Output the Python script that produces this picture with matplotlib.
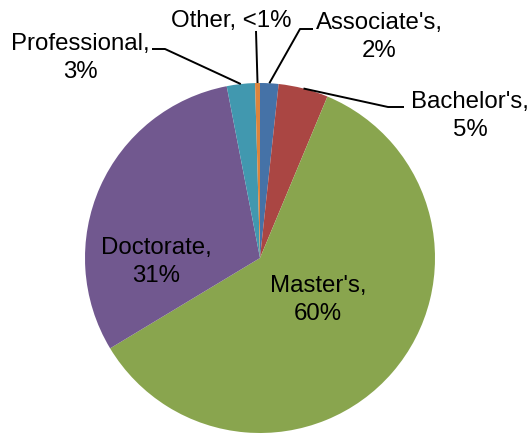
import numpy as np
import matplotlib.pyplot as plt

plt.rcParams['font.family'] = ['Liberation Sans', 'DejaVu Sans']

# degree shares, clockwise from 12 o'clock
degrees = ["Associate's", "Bachelor's", "Master's", "Doctorate", "Professional", "Other"]
shares = [1.7, 4.6, 60.1, 30.6, 2.6, 0.45]
pct_labels = ["2%", "5%", "60%", "31%", "3%", "<1%"]
colors = ["#4572A7", "#AA4643", "#89A54E", "#71588F", "#4198AF", "#DB843D"]

W, H = 530, 435
fig = plt.figure(figsize=(W / 100, H / 100), dpi=100)
ax = fig.add_axes([0, 0, 1, 1])

cx, cy, r = 260, H - 259, 175
wedges, _ = ax.pie(shares, colors=colors, startangle=90, counterclock=False,
                   center=(cx, cy), radius=r, frame=True,
                   wedgeprops=dict(linewidth=0))
ax.set_xlim(0, W)
ax.set_ylim(0, H)
ax.set_aspect('equal')
ax.axis('off')

# label layout (image coords): text centre, and leader knee/end or None
layout = {
    "Associate's": dict(text=(379, 37), line=[(300, 30), (313, 30)], oneline=False),
    "Bachelor's": dict(text=(470, 116), line=[(388, 108), (404, 108)], oneline=False),
    "Master's": dict(text=(318, 300), line=None, oneline=False),
    "Doctorate": dict(text=(156, 262), line=None, oneline=False),
    "Professional": dict(text=(80, 58), line=[(165, 50), (152, 50)], oneline=False),
    "Other": dict(text=(231, 21), line=[(256, 32)], oneline=True),
}

for w, name, pct in zip(wedges, degrees, pct_labels):
    spec = layout[name]
    tx, ty = spec["text"]
    sep = " " if spec["oneline"] else "\n"
    ax.text(tx, H - ty, f"{name},{sep}{pct}", ha='center', va='center',
            fontsize=17.3, linespacing=1.3, color='black')
    if spec["line"]:
        mid = np.deg2rad((w.theta1 + w.theta2) / 2)
        px, py = cx + r * np.cos(mid), cy + r * np.sin(mid)
        xs = [px] + [p[0] for p in spec["line"]]
        ys = [py] + [H - p[1] for p in spec["line"]]
        ax.plot(xs, ys, color='black', linewidth=1.4, solid_capstyle='butt')

fig.savefig("out.png", dpi=100)
